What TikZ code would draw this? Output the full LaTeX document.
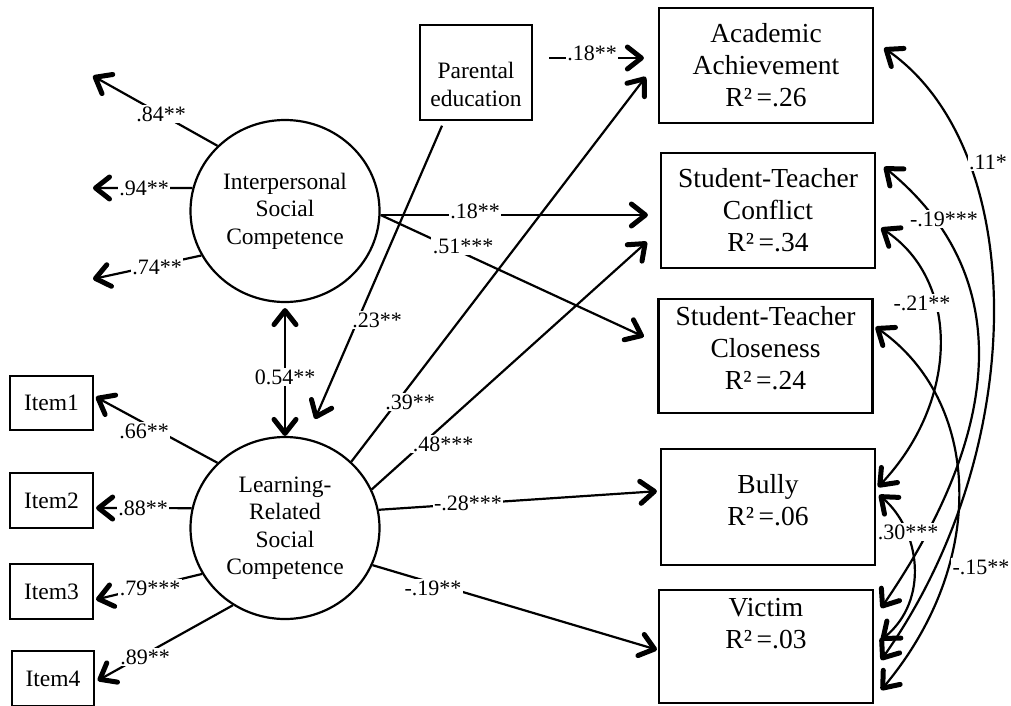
\documentclass[tikz,border=0pt]{standalone}
\usepackage{fontspec}
\setmainfont{Liberation Serif}
\usetikzlibrary{arrows.meta,shapes.geometric}
\begin{document}
\begin{tikzpicture}[x=1pt,y=-1pt,
  arr/.style={line width=2.2pt,-{Straight Barb[length=14pt,width=22pt,line width=5pt,round]}},
  cov/.style={line width=2.2pt,{Straight Barb[length=14pt,width=22pt,line width=5pt,round]}-{Straight Barb[length=14pt,width=22pt,line width=5pt,round]}},
  lat/.style={draw,line width=2.2pt,ellipse,minimum width=189pt,minimum height=182pt,inner sep=0pt,align=center,font=\fontsize{23.5}{27.5}\selectfont},
  obs/.style={draw,line width=2.2pt,rectangle,inner sep=0pt,align=center,font=\fontsize{23.5}{27.5}\selectfont},
  outc/.style={draw,line width=2.2pt,rectangle,minimum width=214pt,minimum height=115pt,inner sep=0pt,align=center,font=\fontsize{27.5}{32}\selectfont},
  lab/.style={fill=white,inner sep=1.5pt,font=\fontsize{22}{26}\selectfont}]
\useasboundingbox (0,0) rectangle (1011,705);
% latent variables
\node[lat] (interp) at (285,211) {Interpersonal\\Social\\Competence};
\node[lat] (learn) at (285,528) {Learning-\\Related\\Social\\Competence};
% observed
\node[obs,minimum width=112pt,minimum height=95pt] (par) at (476,72.5) {\rule{0pt}{40pt}Parental\\education};
\node[obs,minimum width=83pt,minimum height=54pt] (i1) at (51.5,403) {Item1};
\node[obs,minimum width=83pt,minimum height=55pt] (i2) at (51.5,500.5) {Item2};
\node[obs,minimum width=83pt,minimum height=55pt] (i3) at (51.5,591.5) {Item3};
\node[obs,minimum width=82pt,minimum height=55pt] (i4) at (53,678.5) {Item4};
% outcomes
\node[outc] (acad) at (766,65.5) {Academic\\Achievement\\R²\,=.26};
\node[outc] (conf) at (768,210.5) {Student-Teacher\\Conflict\\R²\,=.34};
\node[outc,minimum height=114pt] (clos) at (765.5,356) {Student-Teacher\\Closeness\\R²\,=.24\rule[-16pt]{0pt}{16pt}};
\node[outc,minimum height=116pt] (bully) at (768,507) {Bully\\R²\,=.06\rule[-14pt]{0pt}{14pt}};
\node[outc,minimum height=113pt] (vict) at (766,646.5) {Victim\\R²\,=.03\rule[-47pt]{0pt}{47pt}};
% free ends
\coordinate (e84) at (93,76);
\coordinate (e94) at (93,188);
\coordinate (e74) at (93,279);
\coordinate (pl) at (315,419);
% indicator loadings
\draw[arr] (interp.136) -- (e84);
\draw[arr] (interp.166) -- (e94);
\draw[arr] (interp.208) -- (e74);
\draw[arr,shorten >=2pt] (learn.136) -- ([yshift=7pt]i1.east);
\draw[arr,shorten >=2pt] (learn.168) -- ([yshift=-7.5pt]i2.east);
\draw[arr,shorten >=2pt] (learn.209) -- ([yshift=-8.5pt]i3.east);
\draw[arr,shorten >=3pt] (learn.236) -- ([yshift=-3.5pt]i4.east);
% latent correlation
\draw[cov,shorten <=5pt] (interp.south) -- (learn.north);
% paths
\draw[arr,shorten <=5pt] ([xshift=-32pt]par.south) -- (pl);
\draw[arr,shorten <=16pt,shorten >=14pt] ([yshift=14.5pt]par.east) -- ([yshift=7.5pt]acad.west);
\draw[arr,shorten >=12pt] ([yshift=-4pt]interp.east) -- ([yshift=-4.5pt]conf.west);
\draw[arr,shorten >=15pt] ([yshift=-4pt]interp.east) -- ([yshift=13pt]clos.west);
\draw[arr,shorten >=20pt] (learn.45) -- ([yshift=4.5pt]acad.west);
\draw[arr,shorten >=17.5pt] (learn.24) -- ([yshift=-19.7pt]conf.west);
\draw[arr,shorten >=3pt] (learn.11) -- ([yshift=16pt]bully.west);
\draw[arr,shorten >=1pt] (learn.-23) -- ([yshift=-3.5pt]vict.west);
% residual covariances
\draw[cov] ([xshift=10pt,yshift=17.5pt]acad.east) .. controls (1030,150) and (1030,450) .. ([xshift=7pt,yshift=-13.5pt]vict.east);
\draw[cov] ([xshift=8pt,yshift=43.5pt]conf.east) .. controls (1010,270) and (1010,420) .. ([xshift=7pt,yshift=38.5pt]vict.east);
\draw[cov] ([xshift=5pt,yshift=-17.5pt]conf.east) .. controls (960,280) and (960,400) .. ([xshift=2pt,yshift=20pt]bully.east);
\draw[cov] ([xshift=3pt,yshift=12pt]bully.east) .. controls (920,530) and (930,600) .. ([xshift=7pt,yshift=6.5pt]vict.east);
\draw[cov] ([xshift=2pt,yshift=29pt]clos.east) .. controls (980,400) and (990,560) .. ([xshift=7pt,yshift=-43.5pt]vict.east);
% labels
\node[lab] (l84) at (161,114) {.84**};
\node[lab] (l94) at (144,188) {.94**};
\node[lab] (l74) at (157,267) {.74**};
\node[lab] (l66) at (144,431) {.66**};
\node[lab] (l88) at (143,508) {.88**};
\node[lab] (l79) at (150,588) {.79***};
\node[lab] (l89) at (145,657) {.89**};
\node[lab] (l054) at (285,377) {0.54**};
\node[lab] (l23) at (377,320) {.23**};
\node[lab] (l18a) at (592,53) {.18**};
\node[lab] (l18b) at (475,211) {.18**};
\node[lab] (l51) at (463,246) {.51***};
\node[lab] (l39) at (410,402) {.39**};
\node[lab] (l48) at (443,444) {.48***};
\node[lab] (l28) at (468,503) {-.28***};
\node[lab] (l19) at (433,588) {-.19**};
\node[lab] (l11) at (988,162) {.11*};
\node[lab] (l19r) at (944,219) {-.19***};
\node[lab] (l21) at (922,303) {-.21**};
\node[lab] (l30) at (908,532) {.30***};
\node[lab] (l15) at (981,567) {-.15**};
\end{tikzpicture}
\end{document}
